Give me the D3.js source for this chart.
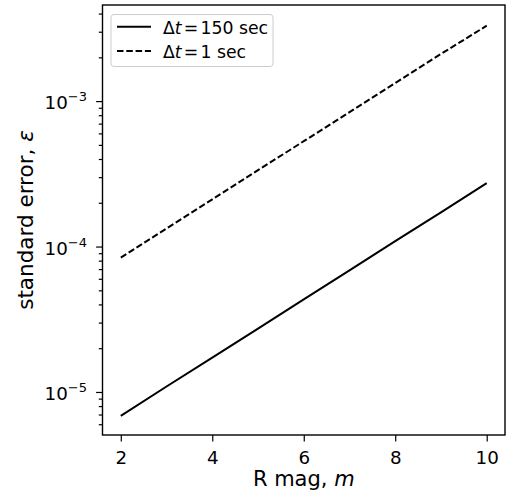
<!DOCTYPE html>
<html>
<head>
<meta charset="utf-8">
<script src="https://cdn.jsdelivr.net/npm/d3@7"></script>
<style>
  body { margin: 0; background: #fff; }
  text { font-family: "DejaVu Sans", sans-serif; fill: #000; }
</style>
</head>
<body>
<div id="chart"></div>
<script>
// magnitudes and standard errors
const mags = [2, 3, 4, 5, 6, 7, 8, 9, 10];
const err150 = [6.85e-6, 1.09e-5, 1.72e-5, 2.73e-5, 4.33e-5, 6.86e-5, 1.09e-4, 1.72e-4, 2.73e-4];
const err1 = [8.4e-5, 1.33e-4, 2.11e-4, 3.35e-4, 5.3e-4, 8.4e-4, 1.33e-3, 2.11e-3, 3.3e-3];
const xTicks = [2, 4, 6, 8, 10];
const yMajor = [1e-5, 1e-4, 1e-3];
const yMajorExp = ['−5', '−4', '−3'];
const yMinor = [6e-6, 7e-6, 8e-6, 9e-6,
  2e-5, 3e-5, 4e-5, 5e-5, 6e-5, 7e-5, 8e-5, 9e-5,
  2e-4, 3e-4, 4e-4, 5e-4, 6e-4, 7e-4, 8e-4, 9e-4,
  2e-3, 3e-3, 4e-3];

const width = 509, height = 496;
const margin = {top: 5, right: 4, bottom: 61, left: 102.5};
const graphWidth = width - margin.left - margin.right;
const graphHeight = height - margin.top - margin.bottom;

const svg = d3.select('#chart')
  .append('svg')
  .attr('width', width)
  .attr('height', height);

const graph = svg.append('g')
  .attr('transform', `translate(${margin.left}, ${margin.top})`);

const x = d3.scaleLinear()
  .domain([1.6, 10.4])
  .range([0, graphWidth]);

const y = d3.scaleLog()
  .domain([5.06e-6, 4.58e-3])
  .range([graphHeight, 0]);

// lines
const line = d3.line()
  .x((d, i) => x(mags[i]))
  .y(d => y(d));

graph.append('path')
  .datum(err150)
  .attr('d', line)
  .attr('fill', 'none')
  .attr('stroke', '#000')
  .attr('stroke-width', 2);

graph.append('path')
  .datum(err1)
  .attr('d', line)
  .attr('fill', 'none')
  .attr('stroke', '#000')
  .attr('stroke-width', 2)
  .attr('stroke-dasharray', '6.5,2.8');

// axes
const xAxisGroup = graph.append('g')
  .attr('transform', `translate(0, ${graphHeight})`)
  .call(d3.axisBottom(x).tickValues(xTicks).tickSize(6.4).tickPadding(9).tickFormat(d3.format('d')));
xAxisGroup.select('.domain').remove();
xAxisGroup.selectAll('text').style('font-size', '18.3px').attr('dy', '0.73em');

const yMinorGroup = graph.append('g')
  .call(d3.axisLeft(y).tickValues(yMinor).tickSize(3.7).tickFormat(''));
yMinorGroup.select('.domain').remove();

const yAxisGroup = graph.append('g')
  .call(d3.axisLeft(y).tickValues(yMajor).tickSize(6.4).tickFormat(''));
yAxisGroup.select('.domain').remove();
graph.selectAll('.tick line').attr('stroke-width', 1.2);

// y tick labels as 10 with superscript
yMajor.forEach((v, i) => {
  const t = graph.append('text')
    .attr('x', -15.5)
    .attr('y', y(v) + 8.3)
    .attr('text-anchor', 'end')
    .style('font-size', '18.3px');
  t.append('tspan').text('10');
  t.append('tspan').attr('dy', -8).style('font-size', '13px').text(yMajorExp[i]);
});

// frame
graph.append('rect')
  .attr('width', graphWidth)
  .attr('height', graphHeight)
  .attr('fill', 'none')
  .attr('stroke', '#000')
  .attr('stroke-width', 1.4);

// axis labels
const xLabel = svg.append('text')
  .attr('x', margin.left + graphWidth / 2)
  .attr('y', 486)
  .attr('text-anchor', 'middle')
  .style('font-size', '21px');
xLabel.append('tspan').text('R mag, ');
xLabel.append('tspan').style('font-style', 'italic').text('m');

const yLabel = svg.append('text')
  .attr('transform', `translate(33, ${margin.top + graphHeight / 2}) rotate(-90)`)
  .attr('text-anchor', 'middle')
  .style('font-size', '21.5px');
yLabel.append('tspan').text('standard error, ');
yLabel.append('tspan').style('font-style', 'italic').text('ε');

// legend
const legend = svg.append('g');
legend.append('rect')
  .attr('x', 111).attr('y', 14.5)
  .attr('width', 162).attr('height', 52)
  .attr('rx', 3)
  .attr('fill', '#fff').attr('fill-opacity', 0.8)
  .attr('stroke', '#cccccc').attr('stroke-width', 1);

const legendItems = [
  {label: '150 sec', dash: null, y: 26.7},
  {label: '1 sec', dash: '6.5,2.8', y: 51}
];
legendItems.forEach(d => {
  legend.append('line')
    .attr('x1', 117).attr('x2', 151)
    .attr('y1', d.y).attr('y2', d.y)
    .attr('stroke', '#000').attr('stroke-width', 2)
    .attr('stroke-dasharray', d.dash);
  const t = legend.append('text')
    .attr('x', 163).attr('y', d.y + 6.8)
    .style('font-size', '17.3px');
  t.append('tspan').text('Δ');
  t.append('tspan').style('font-style', 'italic').text('t');
  t.append('tspan').attr('dx', 2.2).text('=');
  t.append('tspan').attr('dx', 2.2).text(d.label);
});
</script>
</body>
</html>
